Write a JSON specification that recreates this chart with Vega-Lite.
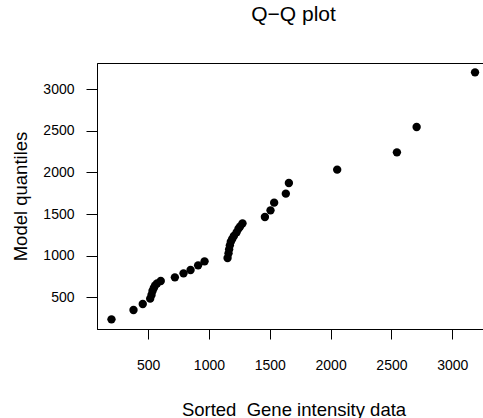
{
  "$schema": "https://vega.github.io/schema/vega-lite/v6.json",
  "autosize": "none",
  "width": 393,
  "height": 266,
  "padding": {"left": 97, "top": 63, "right": 0, "bottom": 89},
  "background": "white",
  "title": {"text": "Q\u2212Q plot", "fontSize": 21, "fontWeight": "normal", "font": "Liberation Sans", "color": "black", "baseline": "alphabetic", "offset": 21.5, "anchor": "middle"},
  "config": {
    "view": {"stroke": "black", "strokeWidth": 1},
    "font": "Liberation Sans"
  },
  "data": {"values": [
    {"x": 199, "y": 236}, {"x": 380, "y": 348}, {"x": 456, "y": 420},
    {"x": 517, "y": 484}, {"x": 528, "y": 528}, {"x": 536, "y": 576}, {"x": 547, "y": 612},
    {"x": 558, "y": 644}, {"x": 574, "y": 668}, {"x": 604, "y": 696},
    {"x": 720, "y": 740}, {"x": 791, "y": 788}, {"x": 849, "y": 828}, {"x": 911, "y": 884}, {"x": 964, "y": 932},
    {"x": 1153, "y": 972}, {"x": 1161, "y": 1028}, {"x": 1166, "y": 1076}, {"x": 1172, "y": 1124},
    {"x": 1180, "y": 1168}, {"x": 1191, "y": 1200}, {"x": 1205, "y": 1236}, {"x": 1227, "y": 1280},
    {"x": 1243, "y": 1324}, {"x": 1257, "y": 1352}, {"x": 1276, "y": 1388},
    {"x": 1460, "y": 1464}, {"x": 1506, "y": 1544}, {"x": 1536, "y": 1636}, {"x": 1632, "y": 1744},
    {"x": 1657, "y": 1872}, {"x": 2054, "y": 2032}, {"x": 2545, "y": 2240}, {"x": 2707, "y": 2544},
    {"x": 3187, "y": 3200}
  ]},
  "mark": {"type": "point", "filled": true, "color": "black", "opacity": 1, "size": 70},
  "encoding": {
    "x": {"field": "x", "type": "quantitative",
      "scale": {"domain": [80, 3310], "nice": false, "zero": false},
      "axis": {"title": "Sorted\u00a0 Gene intensity data", "values": [500, 1000, 1500, 2000, 2500, 3000], "format": "d",
        "domain": true, "domainColor": "black", "domainWidth": 1, "grid": false, "tickSize": 10, "tickColor": "black", "labelPadding": 30,
        "labelBaseline": "alphabetic", "labelFontSize": 14, "labelColor": "black", "labelFont": "Liberation Sans",
        "titleFontSize": 18.5, "titleFontWeight": "normal", "titleColor": "black", "titleFont": "Liberation Sans",
        "titleBaseline": "alphabetic", "titleY": 86}},
    "y": {"field": "y", "type": "quantitative",
      "scale": {"domain": [120, 3312], "nice": false, "zero": false},
      "axis": {"title": "Model quantiles", "values": [500, 1000, 1500, 2000, 2500, 3000], "format": "d",
        "domain": true, "domainColor": "black", "domainWidth": 1, "grid": false, "tickSize": 11, "tickColor": "black", "labelPadding": 12,
        "labelFontSize": 14, "labelColor": "black", "labelFont": "Liberation Sans",
        "titleFontSize": 18.5, "titleFontWeight": "normal", "titleColor": "black", "titleFont": "Liberation Sans",
        "titleBaseline": "alphabetic", "titleX": -71}}
  }
}
